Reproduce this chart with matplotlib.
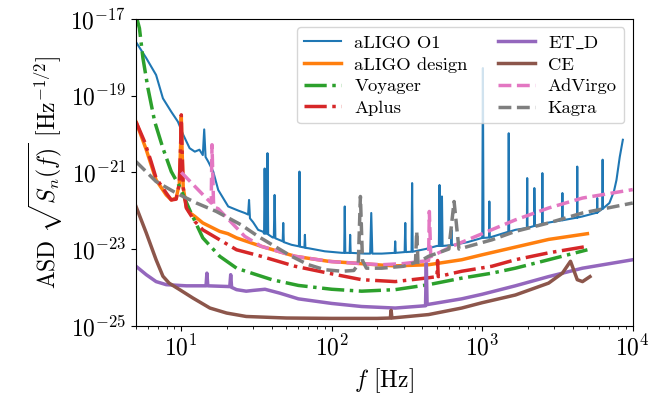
import numpy as np
import matplotlib
matplotlib.use("Agg")
import matplotlib.pyplot as plt

plt.rcParams['font.family'] = 'serif'
plt.rcParams['font.serif'] = ['cmr10']
plt.rcParams['mathtext.fontset'] = 'cm'
plt.rcParams['axes.formatter.use_mathtext'] = True
plt.rcParams['axes.unicode_minus'] = True

# noise curves: frequency [Hz] and log10 of the amplitude spectral density
o1_f = [5.0, 5.85, 6.8, 7.55, 8.58, 9.5, 10.3, 11.36, 12.3, 13.2, 13.9, 14.2, 14.5,
        15.1, 16.3, 17.6, 20.5, 24.0, 26.4, 27.8, 28.2, 28.6, 30.0, 32.4, 35.0,
        35.5, 35.8, 36.2, 37.0, 37.4, 37.8, 40.5, 41.2, 41.7, 42.2, 47.2, 47.6,
        48.0, 54.0, 60.5, 61.0, 61.5, 65.8, 66.3, 66.8, 70.0, 90.0, 117.0, 121.0,
        122.0, 123.0, 131.5, 132.5, 133.5, 166.0, 180.0, 183.0, 186.0, 215.0,
        262.0, 264.0, 266.0, 305.0, 308.0, 311.0, 339.0, 342.0, 345.0, 420.0,
        500.0, 515.0, 520.0, 525.0, 535.0, 540.0, 545.0, 620.0, 624.0, 628.0,
        800.0, 1000.0, 1010.0, 1020.0, 1110.0, 1115.0, 1120.0, 1490.0, 1500.0,
        1510.0, 1660.0, 1980.0, 1990.0, 2000.0, 2210.0, 2220.0, 2240.0, 2500.0,
        2510.0, 2520.0, 2760.0, 3400.0, 3410.0, 3420.0, 4270.0, 4280.0, 4290.0,
        4640.0, 5800.0, 5810.0, 5820.0, 5950.0, 6300.0, 6310.0, 6320.0, 7000.0,
        7500.0, 7800.0, 8200.0, 8600.0]
o1_log = [-17.6, -18.02, -18.46, -19.07, -19.42, -19.68, -20.02, -20.37, -20.46,
          -20.41, -20.55, -19.88, -20.6, -20.72, -20.98, -21.46, -21.89, -22.0,
          -22.06, -22.1, -21.72, -22.2, -22.3, -22.5, -22.55, -22.6, -20.9, -22.6,
          -22.6, -20.5, -22.62, -22.7, -22.7, -21.59, -22.72, -22.8, -22.32, -22.82,
          -22.89, -22.93, -20.98, -22.94, -22.96, -22.63, -22.97, -22.98, -23.06,
          -23.1, -23.1, -21.89, -23.1, -23.1, -22.63, -23.1, -23.12, -23.12, -22.06,
          -23.12, -23.12, -23.1, -22.8, -23.1, -23.08, -22.32, -23.08, -23.07,
          -21.28, -23.07, -23.0, -22.92, -22.92, -21.33, -22.92, -22.92, -21.63,
          -22.92, -22.9, -22.5, -22.9, -22.82, -22.71, -18.28, -22.71, -22.7,
          -21.76, -22.7, -22.55, -19.98, -22.55, -22.5, -22.45, -21.15, -22.45,
          -22.4, -21.41, -22.4, -22.35, -21.02, -22.35, -22.31, -22.25, -21.54,
          -22.25, -22.18, -20.85, -22.18, -22.15, -22.05, -21.67, -22.05, -22.02,
          -21.95, -20.67, -21.95, -21.8, -21.5, -21.2, -20.6, -20.15]

design_f = [5.0, 5.85, 6.8, 7.94, 8.58, 9.25, 9.7, 9.9, 10.0, 10.1, 10.3, 10.8,
            11.36, 12.3, 13.9, 18.0, 20.4, 23.3, 34.0, 57.0, 95.0, 143.0, 215.0,
            264.0, 440.0, 730.0, 1000.0, 1660.0, 2760.0, 5000.0]
design_log = [-19.68, -20.41, -21.2, -21.59, -21.72, -21.67, -21.3, -20.3, -19.55,
              -20.3, -21.4, -21.9, -22.05, -22.15, -22.32, -22.54, -22.6, -22.71,
              -22.93, -23.19, -23.32, -23.37, -23.42, -23.44, -23.41, -23.28,
              -23.15, -22.95, -22.75, -22.6]

voyager_f = [5.0, 5.27, 5.56, 6.0, 6.66, 7.55, 8.58, 9.75, 11.36, 13.9, 18.0, 23.3,
             27.8, 40.0, 60.0, 100.0, 158.0, 264.0, 440.0, 730.0, 1160.0, 1660.0,
             2760.0, 5000.0]
voyager_log = [-16.9, -17.24, -18.02, -18.8, -19.68, -20.37, -20.98, -21.37, -21.98,
               -22.71, -23.19, -23.5, -23.6, -23.8, -23.95, -24.05, -24.1, -24.06,
               -23.93, -23.76, -23.63, -23.5, -23.28, -23.02]

aplus_f = [5.0, 5.7, 6.3, 6.8, 7.94, 8.58, 9.25, 9.7, 9.9, 10.0, 10.1, 10.3, 10.8,
           12.3, 13.9, 18.0, 23.3, 34.0, 57.0, 95.0, 158.0, 264.0, 440.0, 500.0,
           505.0, 510.0, 730.0, 1160.0, 1660.0, 2760.0, 5000.0]
aplus_log = [-19.68, -20.2, -20.72, -21.15, -21.54, -21.72, -21.7, -21.3, -20.3,
             -19.5, -20.3, -21.4, -21.93, -22.28, -22.5, -22.76, -23.02, -23.19,
             -23.45, -23.63, -23.8, -23.85, -23.75, -23.72, -23.3, -23.72, -23.58,
             -23.45, -23.28, -23.1, -22.93]

etd_f = [5.0, 5.85, 6.8, 7.94, 10.8, 14.6, 14.8, 15.0, 21.0, 21.3, 21.6, 23.3, 27.0,
         30.0, 36.0, 45.0, 60.0, 100.0, 158.0, 264.0, 420.0, 425.0, 430.0, 730.0,
         1000.0, 1660.0, 2760.0, 4640.0, 10000.0]
etd_log = [-23.45, -23.67, -23.85, -23.93, -23.96, -23.96, -23.63, -23.96, -23.98,
           -23.67, -24.0, -24.06, -24.1, -24.08, -24.05, -24.15, -24.3, -24.42,
           -24.5, -24.54, -24.48, -23.37, -24.45, -24.3, -24.18, -23.96, -23.72,
           -23.5, -23.28]

ce_f = [5.0, 5.85, 6.8, 7.55, 8.3, 9.75, 11.96, 15.5, 20.0, 27.0, 50.0, 100.0,
        200.0, 245.0, 248.0, 251.0, 440.0, 730.0, 1000.0, 1660.0, 2760.0, 3410.0,
        3860.0, 4280.0, 4640.0, 5200.0]
ce_log = [-21.89, -22.58, -23.28, -23.71, -23.89, -24.06, -24.28, -24.54, -24.67,
          -24.76, -24.8, -24.81, -24.81, -24.8, -24.6, -24.8, -24.71, -24.54, -24.4,
          -24.2, -23.89, -23.63, -23.32, -23.8, -23.85, -23.72]

advirgo_f = [10.0, 14.3, 15.8, 16.0, 16.4, 17.6, 26.4, 34.0, 57.0, 100.0, 158.0,
             215.0, 300.0, 440.0, 445.0, 455.0, 630.0, 1000.0, 1660.0, 2760.0,
             4640.0, 10000.0]
advirgo_log = [-21.0, -21.63, -21.8, -20.28, -21.9, -21.95, -22.67, -22.93, -23.19,
               -23.33, -23.38, -23.41, -23.38, -23.3, -22.02, -23.2, -22.93, -22.6,
               -22.24, -21.93, -21.67, -21.45]

kagra_f = [5.0, 6.8, 9.25, 12.6, 17.1, 25.0, 32.4, 41.8, 54.0, 70.0, 90.0, 117.0,
           140.0, 150.0, 155.0, 160.0, 170.0, 215.0, 300.0, 360.0, 367.0, 374.0,
           440.0, 600.0, 650.0, 700.0, 730.0, 1160.0, 1660.0, 2760.0, 4640.0,
           10000.0]
kagra_log = [-20.72, -21.24, -21.54, -21.8, -22.02, -22.37, -22.67, -22.93, -23.19,
             -23.41, -23.54, -23.58, -23.56, -23.4, -21.63, -23.3, -23.5, -23.5,
             -23.45, -23.35, -22.54, -23.35, -23.19, -23.0, -21.76, -23.0, -22.98,
             -22.76, -22.54, -22.32, -22.06, -21.8]

fig = plt.figure(figsize=(6.51, 4.07), dpi=100)
ax = fig.add_axes([0.2089, 0.1998, 0.763, 0.7535])

ax.loglog(o1_f, 10.0 ** np.array(o1_log), color='C0', lw=1.5, label='aLIGO O1')
ax.loglog(design_f, 10.0 ** np.array(design_log), color='C1', lw=2.5,
          label='aLIGO design')
ax.loglog(voyager_f, 10.0 ** np.array(voyager_log), color='C2', lw=2.5, ls='-.',
          label='Voyager')
ax.loglog(aplus_f, 10.0 ** np.array(aplus_log), color='C3', lw=2.5, ls='-.',
          label='Aplus')
ax.loglog(etd_f, 10.0 ** np.array(etd_log), color='C4', lw=2.5, label=r'ET$\_$D')
ax.loglog(ce_f, 10.0 ** np.array(ce_log), color='C5', lw=2.5, label='CE')
ax.loglog(advirgo_f, 10.0 ** np.array(advirgo_log), color='C6', lw=2.5, ls='--',
          label='AdVirgo')
ax.loglog(kagra_f, 10.0 ** np.array(kagra_log), color='C7', lw=2.5, ls='--',
          label='Kagra')

ax.set_xlim(5, 1e4)
ax.set_ylim(1e-25, 1e-17)
ax.set_yticks([1e-25, 1e-23, 1e-21, 1e-19, 1e-17])
ax.yaxis.set_minor_locator(matplotlib.ticker.NullLocator())
ax.tick_params(labelsize=17)
ax.set_xlabel(r'$f$ [Hz]', fontsize=17)
ax.set_ylabel(r'ASD $\sqrt{S_n(f)}$ [Hz$^{-1/2}$]', fontsize=17)
ax.legend(loc='upper right', ncol=2, fontsize=13.4, labelspacing=0.3,
          columnspacing=1.6, handletextpad=0.7, borderaxespad=0.45)

fig.savefig('out.png', dpi=100)
